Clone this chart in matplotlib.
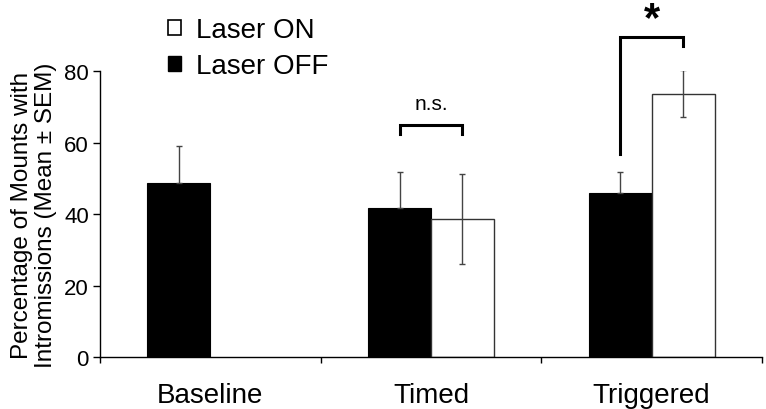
import numpy as np
import matplotlib
matplotlib.use("Agg")
import matplotlib.pyplot as plt
from matplotlib.patches import Patch

plt.rcParams['font.family'] = ['Liberation Sans', 'DejaVu Sans']

# data
groups = ['Baseline', 'Timed', 'Triggered']
off_mean = [48.6, 41.8, 46.0]
off_sem = [10.3, 9.9, 5.8]
on_groups = ['Timed', 'Triggered']
on_mean = [38.7, 73.6]
on_sem = [12.6, 6.6]

fig = plt.figure(figsize=(7.66, 4.10), dpi=100)
ax = fig.add_axes([0.1305, 0.1268, 0.8643, 0.6976])

w = 0.285
centers = np.arange(len(groups)) + 0.5
off_x = centers - w / 2
on_x = np.array([centers[groups.index(g)] for g in on_groups]) + w / 2

ax.bar(off_x, off_mean, width=w, color='black', edgecolor='black', linewidth=0.8, zorder=2)
ax.bar(on_x, on_mean, width=w, color='white', edgecolor='#333333', linewidth=1.0, zorder=2)

# error bars: only upward visible on black bars
ax.errorbar(off_x, off_mean, yerr=[np.zeros(len(off_sem)), off_sem], fmt='none',
            ecolor='#444444', elinewidth=1.0, capsize=2, capthick=1.0, zorder=3)
ax.errorbar(on_x, on_mean, yerr=on_sem, fmt='none',
            ecolor='#444444', elinewidth=1.0, capsize=2, capthick=1.0, zorder=3)

ax.set_xlim(0, 3)
ax.set_ylim(0, 80)
ax.set_yticks([0, 20, 40, 60, 80])
ax.set_xticks(centers)
ax.set_xticklabels(groups, fontsize=20)
ax.set_xticks([0, 1, 2, 3], minor=True)
ax.tick_params(axis='x', which='major', length=0, pad=18)
ax.tick_params(axis='x', which='minor', length=4, width=1, direction='out')
ax.tick_params(axis='y', labelsize=16, length=5, width=1, pad=3)

for s in ['top', 'right']:
    ax.spines[s].set_visible(False)
for s in ['left', 'bottom']:
    ax.spines[s].set_linewidth(1.0)

ax.set_ylabel('Percentage of Mounts with\nIntromissions (Mean ± SEM)', fontsize=17.5,
              linespacing=1.15, labelpad=5)

# significance brackets
t_off, t_on = off_x[1], on_x[0]
ax.plot([t_off, t_off, t_on, t_on], [62.4, 65.0, 65.0, 62.4], color='black', lw=2.2,
        clip_on=False, solid_joinstyle='miter', zorder=4)
ax.text((t_off + t_on) / 2, 71.0, 'n.s.', ha='center', va='center', fontsize=15)

g_off, g_on = off_x[2], on_x[1]
ax.plot([g_off, g_off, g_on, g_on], [56.8, 89.6, 89.6, 87.1], color='black', lw=2.2,
        clip_on=False, solid_joinstyle='miter', zorder=4)
ax.text((g_off + g_on) / 2, 94.5, '*', ha='center', va='center', fontsize=30,
        fontweight='bold', clip_on=False)

handles = [Patch(facecolor='white', edgecolor='black', linewidth=1.2, label='Laser ON'),
           Patch(facecolor='black', edgecolor='black', label='Laser OFF')]
fig.legend(handles=handles, loc='upper left', bbox_to_anchor=(0.205, 0.983), frameon=False,
           fontsize=20, handlelength=0.45, handleheight=0.45, handletextpad=0.55,
           labelspacing=0.37, borderaxespad=0)

fig.savefig('out.png', dpi=100)
